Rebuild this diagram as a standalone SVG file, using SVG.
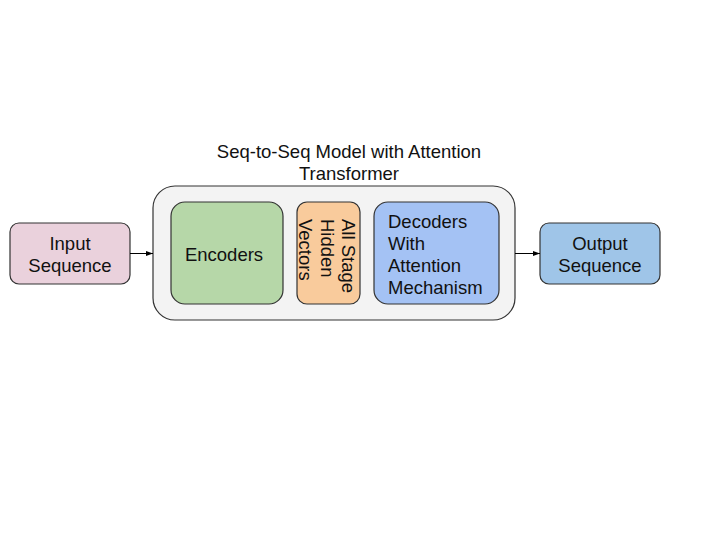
<svg xmlns="http://www.w3.org/2000/svg" width="720" height="540" viewBox="0 0 720 540">
<style>
.box{stroke:#333;stroke-width:1.2}
text{font-family:"Liberation Sans",Arial,sans-serif;font-size:18.5px;fill:#111}
.c{text-anchor:middle}
.conn{stroke:#000;stroke-width:1;fill:none}
</style>
<defs>
<marker id="ah" markerWidth="8" markerHeight="8" refX="7" refY="4" orient="auto" markerUnits="userSpaceOnUse">
<path d="M0,1.5 L7,4 L0,6.5 Z" fill="#000"/>
</marker>
</defs>
<rect width="720" height="540" fill="#fff"/>
<g id="title">
<text class="c" x="349" y="158">Seq-to-Seq Model with Attention</text>
<text class="c" x="349" y="180">Transformer</text>
</g>
<g id="container">
<rect class="box" x="153" y="186" width="362" height="134" rx="22" fill="#f3f3f3"/>
</g>
<g id="input">
<rect class="box" x="10" y="223" width="120" height="61" rx="9" fill="#ead1dc"/>
<text class="c" x="70" y="250">Input</text>
<text class="c" x="70" y="272">Sequence</text>
</g>
<g id="encoders">
<rect class="box" x="171" y="202" width="112" height="102" rx="14" fill="#b6d7a8"/>
<text class="c" x="224" y="261">Encoders</text>
</g>
<g id="hidden">
<rect class="box" x="297" y="202" width="63" height="102" rx="10" fill="#f9cb9c"/>
<text transform="translate(342,219) rotate(90)">All Stage</text>
<text transform="translate(320.5,219) rotate(90)">Hidden</text>
<text transform="translate(299,219) rotate(90)">Vectors</text>
</g>
<g id="decoders">
<rect class="box" x="374" y="202" width="125" height="102" rx="14" fill="#a4c2f4"/>
<text x="388" y="228">Decoders</text>
<text x="388" y="250">With</text>
<text x="388" y="272">Attention</text>
<text x="388" y="294">Mechanism</text>
</g>
<g id="output">
<rect class="box" x="540" y="223" width="120" height="61" rx="9" fill="#9fc5e8"/>
<text class="c" x="600" y="250">Output</text>
<text class="c" x="600" y="272">Sequence</text>
</g>
<g id="connectors">
<line class="conn" x1="130" y1="253.5" x2="153" y2="253.5" marker-end="url(#ah)"/>
<line class="conn" x1="515" y1="253.5" x2="540" y2="253.5" marker-end="url(#ah)"/>
</g>
</svg>
